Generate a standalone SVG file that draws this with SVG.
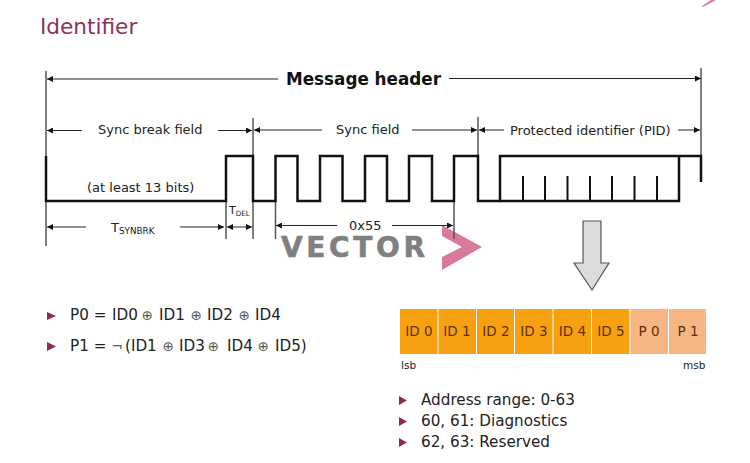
<svg xmlns="http://www.w3.org/2000/svg" width="750" height="463" viewBox="0 0 750 463">
<style>
text{font-family:"DejaVu Sans","Liberation Sans",sans-serif;fill:#222}
.lbl{font-size:13px}
.eq{font-size:15.200px}
.xor{font-size:13.500px;fill:#555}
.cell{font-size:13.500px;fill:#5a3208;text-anchor:middle}
.sub{font-size:8.800px}
.wave{fill:none;stroke:#111;stroke-width:2.5}
.tick{fill:none;stroke:#111;stroke-width:2}
.guide{stroke:#555;stroke-width:1.5;fill:none}
.dim{stroke:#222;stroke-width:1;fill:none;marker-end:url(#ah)}
.bul{fill:#8c2a55}
.id{fill:#f9a010}
.par{fill:#f7b584}
</style>
<defs>
<marker id="ah" viewBox="0 0 6 6" refX="6" refY="3" markerWidth="6" markerHeight="6" orient="auto" markerUnits="userSpaceOnUse"><path d="M0 0L6 3L0 6Z" fill="#111"/></marker>
</defs>
<rect width="750" height="463" fill="#fff"/>
<text id="title" x="40" y="34" style="font-size:21.600px;fill:#8a3358">Identifier</text>
<path d="M702 6L711 0H716L703 7Z" fill="#d97a9c"/>

<g id="logo">
<text x="281" y="257" textLength="144" lengthAdjust="spacing" style="font-size:28px;font-weight:700;fill:#808080;stroke:#808080;stroke-width:.6px">VECTOR</text>
<polygon points="442,225 482,247 442,270 442,257 462,247 442,236" fill="#d97a9c"/>
</g>

<g id="connectors">
<path class="guide" d="M46 71V246M701 68V156M253 118V239M478 117V156M226 201V239M275.500 201V239M454 201V239"/>
<path class="dim" d="M278 79H47"/>
<path class="dim" d="M449 78.500H701"/>
<path class="dim" d="M82 130.500H47"/>
<path class="dim" d="M218 130.500H252"/>
<path class="dim" d="M322 130H254"/>
<path class="dim" d="M412 130H477"/>
<path class="dim" d="M504 130H479"/>
<path class="dim" d="M678 130H700"/>
<path class="dim" d="M86 227H47"/>
<path class="dim" d="M180 227H224"/>
<path class="dim" d="M240 227H227"/>
<path class="dim" d="M240 227H252"/>
<path class="dim" d="M337 225.500H276"/>
<path class="dim" d="M392 225.500H453"/>
</g>

<g id="signal">
<path class="wave" d="M46 156V201H226V156H253V201H275.500V156H297.500V201H320V156H342.500V201H365V156H387V201H409V156H432V201H454V156H478V201H500V156H701V182"/>
<path class="wave" d="M500 201H679V156"/>
<path class="tick" d="M523 176V201M545 176V201M567.500 176V201M590 176V201M612 176V201M634.500 176V201M657 176V201"/>
</g>

<g id="labels">
<text x="286" y="85" style="font-size:16.800px;font-weight:700;fill:#111">Message header</text>
<text class="lbl" x="98" y="134">Sync break field</text>
<text class="lbl" x="336" y="134">Sync field</text>
<text class="lbl" x="510" y="135">Protected identifier (PID)</text>
<text class="lbl" x="87" y="192">(at least 13 bits)</text>
<text class="lbl" x="111" y="232">T<tspan class="sub" dy="2">SYNBRK</tspan></text>
<text x="229" y="214" style="font-size:11px">T<tspan style="font-size:7.200px" dy="2">DEL</tspan></text>
<text class="lbl" x="349" y="230">0x55</text>
</g>

<g id="pid-arrow">
<polygon points="583,221 601,221 601,263 609,263 592,290 574,263 583,263" fill="#dcdcdc" stroke="#555" stroke-width="1.200"/>
</g>

<g id="equations">
<polygon class="bul" points="47,312 56,316 47,320"/>
<text class="eq" y="320"><tspan x="70">P0 = </tspan><tspan x="112">ID0</tspan><tspan class="xor" x="141.500">⊕</tspan><tspan x="159">ID1</tspan><tspan class="xor" x="190.500">⊕</tspan><tspan x="207">ID2</tspan><tspan class="xor" x="238.500">⊕</tspan><tspan x="255">ID4</tspan></text>
<polygon class="bul" points="47,342 56,346.500 47,351"/>
<text class="eq" y="351"><tspan x="70">P1 = </tspan><tspan class="xor" x="111.500">¬</tspan><tspan x="125">(ID1</tspan><tspan class="xor" x="162.500">⊕</tspan><tspan x="179">ID3</tspan><tspan class="xor" x="207.500">⊕</tspan><tspan x="227">ID4</tspan><tspan class="xor" x="257.500">⊕</tspan><tspan x="275">ID5)</tspan></text>
</g>

<g id="bit-fields">
<g id="id0"><rect class="id" x="400" y="309" width="37.500" height="45"/><text class="cell" x="419" y="336">ID 0</text></g>
<g id="id1"><rect class="id" x="438.500" y="309" width="37.500" height="45"/><text class="cell" x="457" y="336">ID 1</text></g>
<g id="id2"><rect class="id" x="477" y="309" width="37" height="45"/><text class="cell" x="496" y="336">ID 2</text></g>
<g id="id3"><rect class="id" x="515" y="309" width="37.500" height="45"/><text class="cell" x="534" y="336">ID 3</text></g>
<g id="id4"><rect class="id" x="553.500" y="309" width="37.500" height="45"/><text class="cell" x="572.500" y="336">ID 4</text></g>
<g id="id5"><rect class="id" x="592" y="309" width="37.500" height="45"/><text class="cell" x="611" y="336">ID 5</text></g>
<g id="p0"><rect class="par" x="630.500" y="309" width="37.500" height="45"/><text class="cell" x="649" y="336">P 0</text></g>
<g id="p1"><rect class="par" x="669" y="309" width="37" height="45"/><text class="cell" x="688" y="336">P 1</text></g>
<text x="401" y="369" style="font-size:10.500px">lsb</text>
<text x="683" y="369" style="font-size:10.500px">msb</text>
</g>

<g id="notes">
<polygon class="bul" points="399,396 407,400.500 399,405"/>
<text class="eq" x="421" y="405">Address range: 0-63</text>
<polygon class="bul" points="399,417 407,421.500 399,426"/>
<text class="eq" x="421" y="426">60, 61: Diagnostics</text>
<polygon class="bul" points="399,438 407,442.500 399,447"/>
<text class="eq" x="421" y="447">62, 63: Reserved</text>
</g>
</svg>
